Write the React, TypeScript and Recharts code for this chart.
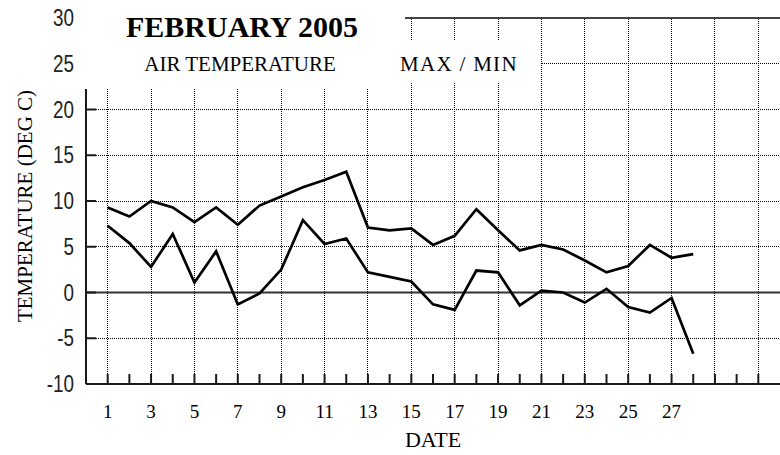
import React from 'react';
import { LineChart, Line, XAxis, YAxis, ReferenceLine } from 'recharts';

// February 2005 daily air temperature (deg C)
const days = [
  1, 2, 3, 4, 5, 6, 7, 8, 9, 10, 11, 12, 13, 14,
  15, 16, 17, 18, 19, 20, 21, 22, 23, 24, 25, 26, 27, 28,
];
const maxTemp = [
  9.3, 8.3, 10.0, 9.3, 7.7, 9.3, 7.4, 9.5, 10.5, 11.5, 12.3, 13.2, 7.1, 6.8,
  7.0, 5.2, 6.2, 9.1, 6.8, 4.6, 5.2, 4.7, 3.5, 2.2, 2.9, 5.2, 3.8, 4.2,
];
const minTemp = [
  7.3, 5.4, 2.8, 6.4, 1.1, 4.5, -1.3, -0.1, 2.5, 7.9, 5.3, 5.9, 2.2, 1.7,
  1.2, -1.3, -1.9, 2.4, 2.2, -1.4, 0.2, 0.0, -1.1, 0.4, -1.6, -2.2, -0.6, -6.7,
];

const dateTicks = [
  1, 2, 3, 4, 5, 6, 7, 8, 9, 10, 11, 12, 13, 14, 15, 16,
  17, 18, 19, 20, 21, 22, 23, 24, 25, 26, 27, 28, 29, 30, 31,
];
const labelledDates = [1, 3, 5, 7, 9, 11, 13, 15, 17, 19, 21, 23, 25, 27];
const gridDates = [1, 3, 5, 7, 9, 11, 13, 15, 17, 19, 21, 23, 25, 27, 29, 31];
const tempTicks = [-10, -5, 0, 5, 10, 15, 20, 25, 30];
const dottedTemps = [-5, 5, 10, 15, 20, 25];

const data = days.map((d, i) => ({ day: d, max: maxTemp[i], min: minTemp[i] }));

const serif = '"Liberation Serif", "Times New Roman", serif';
const sans = '"Liberation Sans", Arial, sans-serif';
const ink = '#1a1a1a';

const DateTick = (props: any) => {
  const { x, y, payload } = props;
  return (
    <g>
      <line x1={x} x2={x} y1={y} y2={y - 10} stroke={ink} strokeWidth={2} />
      {labelledDates.includes(payload.value) && (
        <text x={x} y={y + 34} textAnchor="middle" fontFamily={serif} fontSize={19} fill="#000">
          {payload.value}
        </text>
      )}
    </g>
  );
};

const TempTick = (props: any) => {
  const { x, y, payload } = props;
  return (
    <g>
      <line x1={x} x2={x + 10} y1={y} y2={y} stroke={ink} strokeWidth={2} />
      <text
        x={0}
        y={0}
        transform={`translate(${x - 12}, ${y + 8}) scale(0.82, 1)`}
        textAnchor="end"
        fontFamily={sans}
        fontSize={23}
        fill="#222"
      >
        {payload.value}
      </text>
    </g>
  );
};

export default function App() {
  return (
    <div style={{ position: 'absolute', left: 0, top: 0, width: 780, height: 455, background: '#fff' }}>
      <LineChart width={780} height={455} data={data} margin={{ top: 18, right: 0, bottom: 0, left: 0 }}>
        <XAxis
          dataKey="day"
          type="number"
          domain={[0, 32]}
          ticks={dateTicks}
          interval={0}
          height={71}
          tickSize={0}
          tickMargin={0}
          tickLine={false}
          tick={<DateTick />}
          axisLine={{ stroke: ink, strokeWidth: 2 }}
        />
        <YAxis
          type="number"
          domain={[-10, 30]}
          ticks={tempTicks}
          interval={0}
          width={86}
          tickSize={0}
          tickMargin={0}
          tickLine={false}
          tick={<TempTick />}
          axisLine={{ stroke: ink, strokeWidth: 2 }}
        />
        {gridDates.map((d) => (
          <ReferenceLine
            key={'x' + d}
            x={d}
            stroke="#000"
            strokeWidth={1}
            strokeDasharray="1 1"
            shapeRendering="crispEdges"
          />
        ))}
        {dottedTemps.map((t) => (
          <ReferenceLine
            key={'y' + t}
            y={t}
            stroke="#000"
            strokeWidth={1}
            strokeDasharray="1 1"
            shapeRendering="crispEdges"
          />
        ))}
        <ReferenceLine y={0} stroke="#333" strokeWidth={2} />
        <ReferenceLine y={30} stroke="#444" strokeWidth={2} />
        <Line dataKey="max" type="linear" stroke="#000" strokeWidth={2.7} dot={false} isAnimationActive={false} />
        <Line dataKey="min" type="linear" stroke="#000" strokeWidth={2.7} dot={false} isAnimationActive={false} />
      </LineChart>
      <svg width={780} height={455} style={{ position: 'absolute', left: 0, top: 0, pointerEvents: 'none' }}>
        <rect x={85} y={0} width={320} height={89} fill="#fff" />
        <rect x={405} y={40} width={136} height={43} fill="#fff" />
        <text x={242} y={37} textAnchor="middle" fontFamily={serif} fontWeight="bold" fontSize={30} fill="#000">
          FEBRUARY 2005
        </text>
        <text x={240} y={71} textAnchor="middle" fontFamily={serif} fontSize={21} fill="#000">
          AIR TEMPERATURE
        </text>
        <text x={400} y={71} fontFamily={serif} fontSize={21} letterSpacing={1.3} fill="#000">
          MAX / MIN
        </text>
        <text x={433} y={447} textAnchor="middle" fontFamily={serif} fontSize={22} fill="#000">
          DATE
        </text>
        <text
          x={0}
          y={0}
          transform="translate(32, 206) rotate(-90)"
          textAnchor="middle"
          fontFamily={serif}
          fontSize={21}
          fill="#000"
        >
          TEMPERATURE (DEG C)
        </text>
      </svg>
    </div>
  );
}
